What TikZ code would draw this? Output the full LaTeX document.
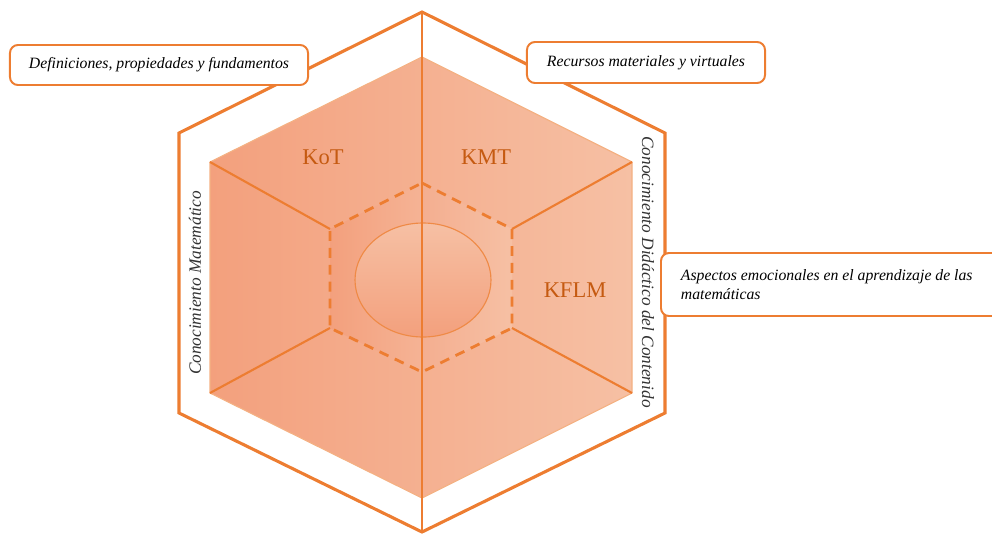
\documentclass[tikz,border=0pt]{standalone}
\usepackage{fontspec}
\setmainfont{Liberation Serif}
\usetikzlibrary{calc}
\definecolor{mkorange}{HTML}{ED7D31}
\definecolor{mkdark}{HTML}{C55A11}
\definecolor{mkleft}{HTML}{F3A07D}
\definecolor{mkright}{HTML}{F6C0A4}
\definecolor{mkmidl}{HTML}{F5B395}
\definecolor{mkmidr}{HTML}{F4AE90}
\tikzstyle{callout}=[rectangle, rounded corners=0.2cm, draw=mkorange, line width=1.4pt, fill=white, font=\itshape\fontsize{11.2}{13.4}\selectfont, inner sep=0pt]
\tikzstyle{klabel}=[text=mkdark, font=\fontsize{16}{18}\selectfont]
\tikzstyle{side}=[font=\itshape\fontsize{12.3}{14}\selectfont, text=black!80]
\tikzstyle{spoke}=[draw=mkorange, line width=1.5pt]
\newcommand{\hexpath}[6]{(#1) -- (#2) -- (#3) -- (#4) -- (#5) -- (#6) -- cycle}

\begin{document}
\begin{tikzpicture}[x=0.025cm, y=-0.025cm]
	\useasboundingbox (0,0) rectangle (992,533);

	% outer frame
	\coordinate (o1) at (422,12);
	\coordinate (o2) at (665,133);
	\coordinate (o3) at (665,413);
	\coordinate (o4) at (422,532);
	\coordinate (o5) at (179,413);
	\coordinate (o6) at (179,133);
	% filled hexagon
	\coordinate (h1) at (422,57);
	\coordinate (h2) at (632,162);
	\coordinate (h3) at (632,393);
	\coordinate (h4) at (422,498);
	\coordinate (h5) at (210,393);
	\coordinate (h6) at (210,162);
	% dashed hexagon
	\coordinate (d1) at (422,183);
	\coordinate (d2) at (512,229);
	\coordinate (d3) at (512,328);
	\coordinate (d4) at (422,372);
	\coordinate (d5) at (330,328);
	\coordinate (d6) at (330,229);

	\shade[left color=mkleft, right color=mkright] \hexpath{h1}{h2}{h3}{h4}{h5}{h6};
	\shade[left color=mkleft, right color=mkmidl] (d1) -- (d6) -- (d5) -- (d4) -- cycle;
	\shade[left color=mkmidr, right color=mkright] (d1) -- (d2) -- (d3) -- (d4) -- cycle;
	\shade[top color=mkright, bottom color=mkleft, draw=mkorange!90, line width=0.8pt] (423,280) ellipse (68 and 57);

	\draw[draw=mkorange!60, line width=0.8pt, line join=round] \hexpath{h1}{h2}{h3}{h4}{h5}{h6};
	\draw[spoke] (h6) -- (d6);
	\draw[spoke] (h5) -- (d5);
	\draw[spoke] (h2) -- (d2);
	\draw[spoke] (h3) -- (d3);
	\draw[draw=mkorange, line width=2pt, dash pattern=on 7pt off 5pt] \hexpath{d1}{d2}{d3}{d4}{d5}{d6};
	\draw[spoke] (o1) -- (422,533);
	\draw[draw=mkorange, line width=2.2pt, line join=miter] \hexpath{o1}{o2}{o3}{o4}{o5}{o6};

	\node[klabel] (kot) at (323,157) {KoT};
	\node[klabel] (kmt) at (486,157) {KMT};
	\node[klabel] (kflm) at (575,290) {KFLM};

	\node[side, rotate=90] (cm) at (195,283) {Conocimiento Matemático};
	\node[side, rotate=-90] (cdc) at (648,272) {Conocimiento Didáctico del Contenido};

	\node[callout, minimum width=7.45cm, minimum height=1cm] (defs) at (159,65) {Definiciones, propiedades y fundamentos};
	\node[callout, minimum width=5.95cm, minimum height=1.025cm] (recs) at (646,62.5) {Recursos materiales y virtuales};
	\node[callout, anchor=west, minimum height=1.575cm, align=flush left, inner xsep=0.5cm, text width=8.5cm] (emoc) at (660,284.5) {Aspectos emocionales en el aprendizaje de las\\matemáticas};
\end{tikzpicture}
\end{document}
